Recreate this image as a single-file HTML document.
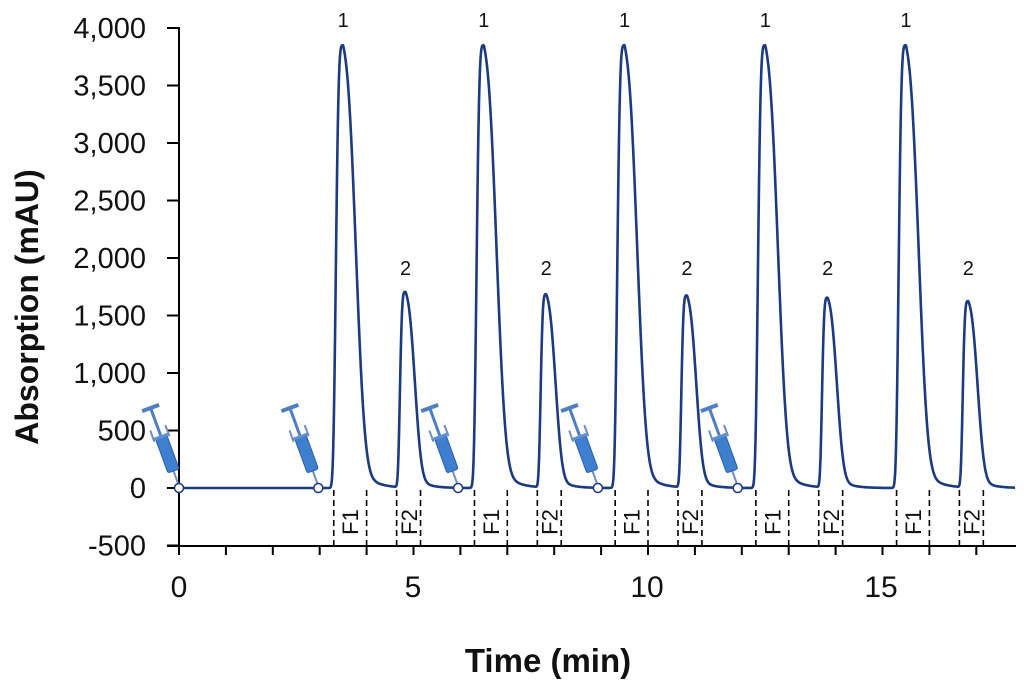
<!DOCTYPE html>
<html><head><meta charset="utf-8"><style>
body{margin:0;background:#fff;}
svg{display:block;font-family:"Liberation Sans",sans-serif;}
</style></head><body>
<svg id="s" width="1024" height="682" viewBox="0 0 1024 682" xmlns="http://www.w3.org/2000/svg">
<defs>
<g id="syr">
  <line x1="0" y1="0" x2="0" y2="-18" stroke="#6f8fc0" stroke-width="2"/>
  <rect x="-6" y="-52" width="12" height="36" rx="2" fill="#3f7fd0" stroke="#2a5fa8" stroke-width="1"/>
  <rect x="-9" y="-54" width="18" height="3" fill="#5f8fd0"/>
  <line x1="0" y1="-54" x2="0" y2="-82" stroke="#4f7fc0" stroke-width="3"/>
  <line x1="-9" y1="-83" x2="9" y2="-83" stroke="#4f7fc0" stroke-width="4"/>
  <line x1="8" y1="-50" x2="8" y2="-62" stroke="#6f8fc0" stroke-width="2"/>
  <line x1="-8" y1="-50" x2="-8" y2="-62" stroke="#6f8fc0" stroke-width="2"/>
</g>
</defs>
<g stroke="#000" stroke-width="2" fill="none">
  <line x1="179" y1="27" x2="179" y2="547"/>
  <line x1="167" y1="546" x2="1016" y2="546"/>
</g>
<g id="yt" stroke="#000" stroke-width="2"></g>
<g id="xt" stroke="#000" stroke-width="2"></g>
<g id="ylab" font-size="29" text-anchor="end" fill="#111"></g>
<g font-size="30" text-anchor="middle" fill="#111">
  <text x="179" y="597">0</text><text x="413" y="597">5</text><text x="647" y="597">10</text><text x="881" y="597">15</text>
</g>
<text x="548" y="672" font-size="33" font-weight="bold" text-anchor="middle" fill="#111">Time (min)</text>
<text transform="translate(38,307) rotate(-90)" font-size="32" font-weight="bold" text-anchor="middle" fill="#111">Absorption (mAU)</text>
<g id="frac" stroke="#000" stroke-width="1.6" stroke-dasharray="6,4" fill="none"></g>
<g id="flab" font-size="22" fill="#111"></g>
<g id="syrs"></g>
<path id="trace" fill="none" stroke="#1b3a80" stroke-width="2.6" stroke-linejoin="round"/>
<g id="circ"></g>
<g id="plab" font-size="20" text-anchor="middle" fill="#111"></g>
</svg>
<script>
const NS="http://www.w3.org/2000/svg";
const X=t=>179+t*46.9, Y=v=>488-v*0.115;
function add(g,tag,attrs,txt){const e=document.createElementNS(NS,tag);for(const k in attrs)e.setAttribute(k,attrs[k]);if(txt!==undefined)e.textContent=txt;document.getElementById(g).appendChild(e);}
const labs=["4,000","3,500","3,000","2,500","2,000","1,500","1,000","500","0","-500"];
for(let i=0;i<10;i++){const y=28+i*57.5;add("yt","line",{x1:167,y1:y,x2:179,y2:y});add("ylab","text",{x:146,y:y+10},labs[i]);}
for(let t=0;t<=17;t++){add("xt","line",{x1:X(t),y1:546,x2:X(t),y2:555});}
const h2=[1700,1680,1670,1650,1620];
function peak(t,c,H,sL,sR,tau){const d=t-c;if(d<0)return H*Math.exp(-Math.pow(-d/sL,4));return H*(0.85*Math.exp(-Math.pow(d/sR,2.5))+0.15*Math.exp(-d/tau));}
let pts=[];
for(let px=179;px<=1015;px+=0.5){const t=(px-179)/46.9;let v=0;
 for(let k=0;k<5;k++){const c1=3.5+3*k,c2=4.83+3*k;
  v+=peak(t,c1,3850,0.17,0.34,0.28);v+=peak(t,c2,h2[k],0.13,0.25,0.22);}
 pts.push((pts.length?"L":"M")+px.toFixed(1)+","+Y(v).toFixed(1));}
document.getElementById("trace").setAttribute("d",pts.join(""));
for(let k=0;k<5;k++){const o=3*k;
 [3.3,4.0,4.64,5.15].forEach(t=>add("frac","line",{x1:X(t+o),y1:490,x2:X(t+o),y2:546}));
 add("flab","text",{transform:`translate(${X(3.65+o)+8},522) rotate(-90)`,"text-anchor":"middle"},"F1");
 add("flab","text",{transform:`translate(${X(4.9+o)+8},522) rotate(-90)`,"text-anchor":"middle"},"F2");
 add("plab","text",{x:X(3.5+o),y:27},"1");
 add("plab","text",{x:X(4.83+o),y:275},"2");
 const cx=179+k*139.8-(k>0?0.5:0);
 add("syrs","use",{href:"#syr",transform:`translate(${cx},486) rotate(-20)`});
 add("circ","circle",{cx:cx,cy:488,r:4.5,fill:"#fff",stroke:"#1b3a80","stroke-width":1.5});
}
</script>
</body></html>
